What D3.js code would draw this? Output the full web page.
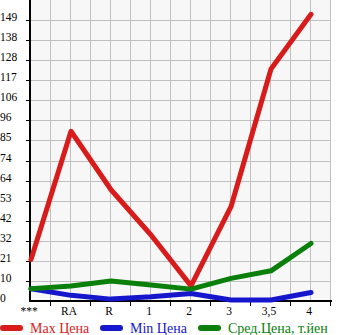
<!DOCTYPE html>
<html>
<head>
<meta charset="utf-8">
<script src="https://cdn.jsdelivr.net/npm/d3@7"></script>
<style>
  body { margin: 0; background: #fff; }
  svg { display: block; font-family: "Liberation Serif", "DejaVu Serif", serif; }
</style>
</head>
<body>
<svg id="chart" width="345" height="335"></svg>
<script>
// chart data
const categories = ['***', 'RA', 'R', '1', '2', '3', '3,5', '4'];
const maxPrice = [22, 90, 59, 35, 8, 50, 123, 152];
const minPrice = [6.5, 3, 1, 2.2, 4, 0.5, 0.5, 4.5];
const avgPrice = [6.5, 8, 10.6, 8.5, 6.3, 12, 16, 30.5];
const yTickLabels = ['0', '10', '21', '32', '42', '53', '64', '74', '85', '96', '106', '117', '128', '138', '149'];
const seriesNames = ['Max Цена', 'Min Цена', 'Сред.Цена, т.йен'];
const seriesColors = ['#d81b1b', '#1616cc', '#0a7f0a'];

const svg = d3.select('#chart');
const plotL = 31, plotR = 331, plotT = 0, plotB = 301;
const yMax = 159.6;

const x = d3.scalePoint().domain(categories).range([plotL, plotL + 280]);
const y = d3.scaleLinear().domain([0, yMax]).range([plotB, plotT]);
const gx = d3.scaleLinear().domain([0, 15]).range([plotL, plotR]);

// plot background
svg.append('rect')
    .attr('x', plotL).attr('y', plotT)
    .attr('width', plotR - plotL).attr('height', plotB - plotT)
    .attr('fill', '#f7f7f7');

// grid
const yTicks = d3.range(1, 15).map(i => i * yMax / 15);
svg.append('g').selectAll('line').data(yTicks).join('line')
    .attr('x1', plotL).attr('x2', plotR)
    .attr('y1', d => Math.round(y(d)) + 0.5).attr('y2', d => Math.round(y(d)) + 0.5)
    .attr('stroke', '#c0c0c0');
svg.append('g').selectAll('line').data(d3.range(1, 16)).join('line')
    .attr('x1', d => Math.round(gx(d)) - 0.5).attr('x2', d => Math.round(gx(d)) - 0.5)
    .attr('y1', plotT).attr('y2', plotB)
    .attr('stroke', '#c0c0c0');

// axes
svg.append('line')
    .attr('x1', plotL - 1).attr('x2', plotL - 1).attr('y1', plotT).attr('y2', plotB + 1)
    .attr('stroke', '#000').attr('stroke-width', 2);
svg.append('line')
    .attr('x1', plotL - 1).attr('x2', plotR + 1).attr('y1', plotB).attr('y2', plotB)
    .attr('stroke', '#000').attr('stroke-width', 2);

// y ticks and labels
svg.append('g').selectAll('line').data(yTicks).join('line')
    .attr('x1', plotL - 5).attr('x2', plotL)
    .attr('y1', d => Math.round(y(d)) + 0.5).attr('y2', d => Math.round(y(d)) + 0.5)
    .attr('stroke', '#000');
svg.append('g').selectAll('text').data(yTickLabels).join('text')
    .attr('x', 0)
    .attr('y', (d, i) => y(i * yMax / 15) + 1)
    .attr('font-size', 11.5)
    .text(d => d);

// x ticks and labels
svg.append('g').selectAll('line').data(d3.range(1, 16, 2)).join('line')
    .attr('x1', d => Math.round(gx(d)) - 0.5).attr('x2', d => Math.round(gx(d)) - 0.5)
    .attr('y1', plotB).attr('y2', plotB + 5)
    .attr('stroke', '#000');
svg.append('g').selectAll('text').data(categories).join('text')
    .attr('x', d => x(d) - 2)
    .attr('y', 315)
    .attr('text-anchor', 'middle')
    .attr('font-size', 11.5)
    .text(d => d);

// series
const line = d3.line()
    .x((d, i) => x(categories[i]))
    .y(d => y(d));
[maxPrice, minPrice, avgPrice].forEach((s, k) => {
  svg.append('path')
      .datum(s)
      .attr('d', line)
      .attr('fill', 'none')
      .attr('stroke', seriesColors[k])
      .attr('stroke-width', 5)
      .attr('stroke-linejoin', 'round')
      .attr('stroke-linecap', 'round');
});

// legend
const legendX = [0, 100, 198];
const legend = svg.append('g').selectAll('g').data(seriesNames).join('g')
    .attr('transform', (d, i) => `translate(${legendX[i]},328)`);
legend.append('line')
    .attr('x1', 3).attr('x2', 20)
    .attr('stroke', (d, i) => seriesColors[i])
    .attr('stroke-width', 6)
    .attr('stroke-linecap', 'round');
legend.append('text')
    .attr('x', 30).attr('y', 5)
    .attr('font-size', 14)
    .attr('fill', (d, i) => seriesColors[i])
    .text(d => d);
</script>
</body>
</html>
